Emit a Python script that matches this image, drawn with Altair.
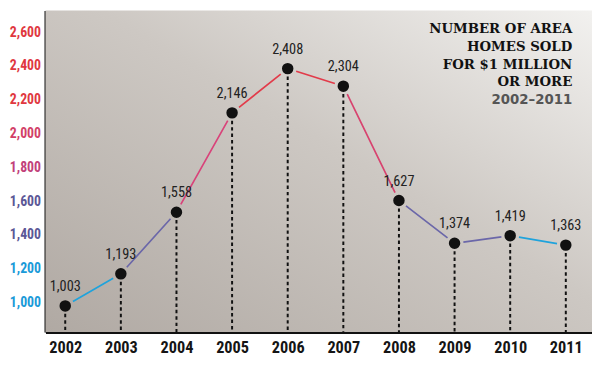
import math
import altair as alt
import pandas as pd

years = [2002, 2003, 2004, 2005, 2006, 2007, 2008, 2009, 2010, 2011]
values = [1003, 1193, 1558, 2146, 2408, 2304, 1627, 1374, 1419, 1363]
labels = ["1,003", "1,193", "1,558", "2,146", "2,408", "2,304", "1,627", "1,374", "1,419", "1,363"]
y_ticks = [1000, 1200, 1400, 1600, 1800, 2000, 2200, 2400, 2600]
title_lines = ["NUMBER OF AREA", "HOMES SOLD", "FOR $1 MILLION", "OR MORE"]
subtitle = "2002\u20132011"

seg_colors = ["#1fa3dc", "#6b67a9", "#d9437a", "#e23b4a", "#e23b4a",
              "#d8436f", "#6b67a9", "#6b67a9", "#1fa3dc"]

COND = "Roboto Condensed, DejaVu Sans Condensed, sans-serif"
PL = 38
W, H = 554, 326
XD = [2001.645, 2011.471]
YD = [848, 2752]

pts = pd.DataFrame({"year": years, "value": values, "label": labels})

px_year = W / (XD[1] - XD[0])
px_unit = H / (YD[1] - YD[0])
gap = 9
seg_rows = []
dashes = []
for i in range(len(years) - 1):
    dx = (years[i + 1] - years[i]) * px_year
    dy = (values[i + 1] - values[i]) * px_unit
    L = math.hypot(dx, dy)
    dashes.append([0, gap, max(L - 2 * gap, 1), 2000])
    seg_rows.append({"seg": f"s{i}", "year": years[i], "value": values[i],
                     "year2": years[i + 1], "value2": values[i + 1]})
segs = pd.DataFrame(seg_rows)
seg_ids = list(segs["seg"])

xs = alt.Scale(domain=XD, nice=False, zero=False)
ys = alt.Scale(domain=YD, nice=False, zero=False)

x_axis = alt.Axis(values=years, format="d", title=None, grid=False, ticks=False,
                  domainColor="#111", domainWidth=3, labelPadding=8,
                  labelFont=COND, labelFontWeight="bold", labelFontSize=16.5,
                  labelColor="#151515")
y_axis = alt.Axis(values=y_ticks, format=",d", title=None, grid=True, ticks=False,
                  gridColor="#f4f1ee", gridWidth=1.5, gridOpacity=1,
                  domainColor="#111", domainWidth=3, labelPadding=5, labelOffset=-4,
                  labelFont=COND, labelFontWeight="bold", labelFontSize=14,
                  labelColor={"condition": [
                      {"test": "datum.value >= 2200", "value": "#e0383f"},
                      {"test": "datum.value >= 2000", "value": "#d23f68"},
                      {"test": "datum.value >= 1800", "value": "#c2407a"},
                      {"test": "datum.value >= 1400", "value": "#5b5796"}],
                      "value": "#1a9ad8"})

bg = alt.Chart(pd.DataFrame({"k": [0]})).mark_rect(
    fill={"gradient": "linear", "x1": 0, "y1": 1, "x2": 1, "y2": 0,
          "stops": [{"offset": 0, "color": "#b0a9a3"},
                    {"offset": 0.55, "color": "#cdc8c3"},
                    {"offset": 1, "color": "#f2f1ef"}]},
    stroke=None,
).encode(x=alt.value(0), x2=alt.value(W), y=alt.value(0), y2=alt.value(H))

base = alt.Chart(pts)

drops = base.mark_rule(color="#111", strokeWidth=2, strokeDash=[3.5, 3], yOffset=8).encode(
    x=alt.X("year:Q", scale=xs, axis=x_axis),
    y=alt.Y("value:Q", scale=ys, axis=y_axis),
    y2=alt.value(H),
)

lines = alt.Chart(segs).mark_rule(strokeWidth=1.7).encode(
    x=alt.X("year:Q", scale=xs),
    y=alt.Y("value:Q", scale=ys),
    x2="year2:Q",
    y2="value2:Q",
    color=alt.Color("seg:N", scale=alt.Scale(domain=seg_ids, range=seg_colors), legend=None),
    strokeDash=alt.StrokeDash("seg:N", scale=alt.Scale(domain=seg_ids, range=dashes), legend=None),
)

dots = base.mark_circle(size=135, color="#111", opacity=1).encode(
    x=alt.X("year:Q", scale=xs),
    y=alt.Y("value:Q", scale=ys),
)

vlabels = base.mark_text(dy=-19, baseline="middle", align="center", fontSize=14.5,
                         font=COND, color="#222").encode(
    x=alt.X("year:Q", scale=xs),
    y=alt.Y("value:Q", scale=ys),
    text="label:N",
)

title = alt.Chart(pd.DataFrame({"t": ["\n".join(title_lines)]})).mark_text(
    align="right", baseline="middle", font="DejaVu Serif", fontWeight="bold",
    fontSize=13.5, color="#111", lineBreak="\n", lineHeight=18).encode(
    x=alt.value(W - 20), y=alt.value(19), text="t:N")
sub = alt.Chart(pd.DataFrame({"t": [subtitle]})).mark_text(
    align="right", baseline="middle", font="DejaVu Sans", fontWeight="bold",
    fontSize=13.5, color="#555").encode(
    x=alt.value(W - 20), y=alt.value(91), text="t:N")

chart = alt.layer(bg, drops, lines, dots, vlabels, title, sub).properties(
    width=W, height=H,
    autosize=alt.AutoSizeParams(type="none"),
    padding={"left": PL, "top": 0, "right": 0, "bottom": 45},
).configure_view(stroke=None)

chart.save("out.html", embed_options={"renderer": "svg", "actions": False})
